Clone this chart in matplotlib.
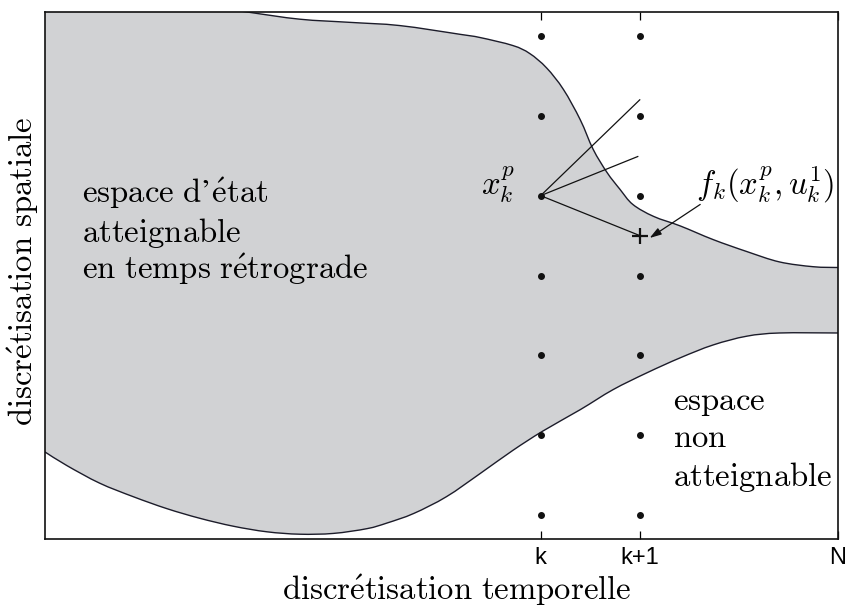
import numpy as np
import matplotlib
matplotlib.use("Agg")
import matplotlib.pyplot as plt
from matplotlib.path import Path
from matplotlib.patches import PathPatch

plt.rcParams['mathtext.fontset'] = 'cm'

# ---- data ----
upper_x = [0.0, 0.8, 1.5, 2.04, 2.57, 3.08, 3.58, 4.19, 4.39, 4.72, 4.89, 5.06, 5.23, 5.40,
           5.53, 5.67, 5.80, 5.93, 6.14, 6.41, 6.74, 7.08, 7.41, 7.75, 8.0]
upper_y = [6.70, 6.55, 6.40, 6.30, 6.21, 6.17, 6.13, 6.02, 5.98, 5.88, 5.78, 5.60, 5.33, 4.95,
           4.58, 4.29, 4.08, 3.89, 3.74, 3.62, 3.45, 3.30, 3.17, 3.11, 3.10]
lower_x = [0.0, 0.22, 0.55, 0.89, 1.23, 1.56, 1.90, 2.24, 2.57, 2.91, 3.25, 3.45, 3.72, 4.05,
           4.39, 4.72, 5.02, 5.40, 5.73, 6.07, 6.41, 6.74, 7.08, 7.41, 8.0]
lower_y = [0.79, 0.62, 0.40, 0.23, 0.08, -0.04, -0.14, -0.21, -0.24, -0.23, -0.17, -0.10, 0.02, 0.23,
           0.52, 0.81, 1.05, 1.32, 1.57, 1.78, 1.97, 2.13, 2.24, 2.28, 2.28]

grid_times = [5, 6]
grid_states = [0, 1, 2, 3, 4, 5, 6]

start_point = (5, 4)
end_x = [6, 5.98, 6]
end_y = [5.2, 4.49, 3.5]
plus_point = (6, 3.5)

tick_pos = [5, 6, 8]
tick_labels = ['k', 'k+1', 'N']


def smooth_codes(xs, ys, first=True):
    """Catmull-Rom through the read points, expressed as cubic Bezier path segments."""
    p = np.column_stack([xs, ys]).astype(float)
    verts, codes = [], []
    if first:
        verts.append(p[0]); codes.append(Path.MOVETO)
    else:
        verts.append(p[0]); codes.append(Path.LINETO)
    n = len(p)
    for i in range(n - 1):
        p0 = p[i - 1] if i > 0 else p[i]
        p1, p2 = p[i], p[i + 1]
        p3 = p[i + 2] if i + 2 < n else p[i + 1]
        c1 = p1 + (p2 - p0) / 6.0
        c2 = p2 - (p3 - p1) / 6.0
        verts += [c1, c2, p2]
        codes += [Path.CURVE4] * 3
    return verts, codes


fig = plt.figure(figsize=(8.49, 6.08), dpi=100)
ax = fig.add_axes([45/849, 1-539/608, 793/849, 527/608])
ax.set_xlim(0, 8)
ax.set_ylim(-0.3, 6.3)

fill_col = '#d1d2d4'
line_col = '#1c1c2a'

vu, cu = smooth_codes(upper_x, upper_y, True)
vl, cl = smooth_codes(lower_x[::-1], lower_y[::-1], False)
fill_path = Path(vu + vl + [vu[0]], cu + cl + [Path.CLOSEPOLY])
ax.add_patch(PathPatch(fill_path, facecolor=fill_col, lw=0, zorder=1))

vu2, cu2 = smooth_codes(upper_x, upper_y, True)
vl2, cl2 = smooth_codes(lower_x, lower_y, True)
ax.add_patch(PathPatch(Path(vu2, cu2), facecolor='none', edgecolor=line_col, lw=1.0, zorder=2))
ax.add_patch(PathPatch(Path(vl2, cl2), facecolor='none', edgecolor=line_col, lw=1.0, zorder=2))

gx, gy = np.meshgrid(grid_times, grid_states)
ax.plot(gx.ravel(), gy.ravel(), 'o', color='#111111', ms=4, zorder=4)

for ex, ey in zip(end_x, end_y):
    ax.plot([start_point[0], ex], [start_point[1], ey], color='#111111', lw=0.9, zorder=3)
ax.plot([plus_point[0]], [plus_point[1]], '+', color='#111111', ms=11, mew=1.6, zorder=4)

fs = 23.6
ax.text(0.373, 3.91, r"$\mathrm{espace\ d’\acute{e}tat}$", fontsize=fs, va='baseline', ha='left')
ax.text(0.373, 3.42, r"$\mathrm{atteignable}$", fontsize=fs, va='baseline', ha='left')
ax.text(0.373, 2.95, r"$\mathrm{en\ temps\ r\acute{e}trograde}$", fontsize=fs, va='baseline', ha='left')

ax.text(6.335, 1.32, r"$\mathrm{espace}$", fontsize=fs, va='baseline', ha='left')
ax.text(6.335, 0.85, r"$\mathrm{non}$", fontsize=fs, va='baseline', ha='left')
ax.text(6.335, 0.36, r"$\mathrm{atteignable}$", fontsize=fs, va='baseline', ha='left')

ax.text(4.40, 4.01, r"$x_k^p$", fontsize=fs, va='baseline', ha='left')
ax.text(6.57, 4.02, r"$f_k(x_k^p,u_k^1)$", fontsize=fs, va='baseline', ha='left')
ax.annotate('', xy=(6.10, 3.47), xytext=(6.61, 3.89),
            arrowprops=dict(arrowstyle='-|>,head_length=0.7,head_width=0.22',
                            color='#111111', lw=0.9, shrinkA=0, shrinkB=0))

ax.set_xticks(tick_pos)
ax.set_xticklabels(tick_labels, fontfamily='Liberation Sans', fontsize=17)
ax.set_yticks([])
ax.tick_params(axis='x', direction='in', length=6, top=True, bottom=True, pad=6, width=0.9)
for s in ax.spines.values():
    s.set_linewidth(1.2)
    s.set_color('#111111')

ax.set_xlabel(r"$\mathrm{discr\acute{e}tisation\ temporelle}$", fontsize=fs, va='center')
ax.xaxis.set_label_coords((457-45)/793, (539-590)/527)
ax.set_ylabel(r"$\mathrm{discr\acute{e}tisation\ spatiale}$", fontsize=fs, va='center')
ax.yaxis.set_label_coords((23-45)/793, (539-271.5)/527)

fig.savefig('out.png', dpi=100)
